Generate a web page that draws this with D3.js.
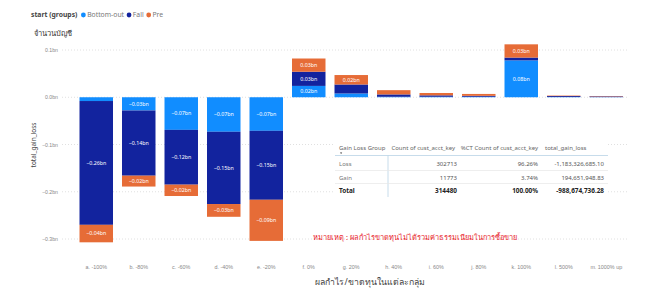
<!DOCTYPE html>
<html>
<head>
<meta charset="utf-8">
<script src="https://cdn.jsdelivr.net/npm/d3@7"></script>
<style>
  body { margin: 0; background: #fff; }
  svg { font-family: "Segoe UI", "Noto Sans", "DejaVu Sans", sans-serif; }
</style>
</head>
<body>
<div class="graph"></div>
<script>
// categories and series (values in billions)
var categories = ['a. -100%', 'b. -80%', 'c. -60%', 'd. -40%', 'e. -20%', 'f. 0%', 'g. 20%',
    'h. 40%', 'i. 60%', 'j. 80%', 'k. 100%', 'l. 500%', 'm. 1000% up'];
var seriesNames = ['Bottom-out', 'Fall', 'Pre'];
var bottomOut = [-0.008, -0.028, -0.069, -0.073, -0.071, 0.024, 0.008, 0.001, 0.001, 0.001, 0.078, 0.0005, 0.0003];
var fall = [-0.262, -0.138, -0.116, -0.153, -0.146, 0.030, 0.019, 0.005, 0.003, 0.002, 0.006, 0.002, 0.0015];
var pre = [-0.037, -0.023, -0.024, -0.027, -0.087, 0.028, 0.020, 0.009, 0.005, 0.004, 0.028, 0.001, 0.0008];
var yTicks = [0.1, 0, -0.1, -0.2, -0.3];

// table
var tableHeader = ['Gain Loss Group', 'Count of cust_acct_key', '%CT Count of cust_acct_key', 'total_gain_loss'];
var tableRows = [
    ['Loss', '302713', '96.26%', '-1,183,326,685.10'],
    ['Gain', '11773', '3.74%', '194,651,948.83'],
    ['Total', '314480', '100.00%', '-988,674,736.28']
];

var colors = { 'Bottom-out': '#118DFF', 'Fall': '#12239E', 'Pre': '#E66C37' };

var width = 656, height = 304;

var svg = d3.select('.graph')
    .append('svg')
    .attr('width', width)
    .attr('height', height);

var data = categories.map(function (c, i) {
    return { cat: c, 'Bottom-out': bottomOut[i], 'Fall': fall[i], 'Pre': pre[i] };
});

var xScale = d3.scaleBand()
    .domain(categories)
    .range([75, 627.5])
    .paddingInner(0.212)
    .paddingOuter(0.106);

var yScale = d3.scaleLinear()
    .domain([-0.3, 0.1])
    .range([239, 50]);

// legend
var legend = svg.append('g').attr('transform', 'translate(31, 15)');
var title = legend.append('text')
    .attr('y', 2.4)
    .attr('font-size', 6.8)
    .attr('font-weight', 'bold')
    .attr('fill', '#444')
    .text('start (groups)');
var lx = title.node().getComputedTextLength() + 6;
seriesNames.forEach(function (s) {
    legend.append('circle')
        .attr('cx', lx)
        .attr('cy', 0)
        .attr('r', 2.4)
        .attr('fill', colors[s]);
    var t = legend.append('text')
        .attr('x', lx + 3.8)
        .attr('y', 2.4)
        .attr('font-size', 6.8)
        .attr('fill', '#777')
        .text(s);
    lx += 3.8 + t.node().getComputedTextLength() + 5;
});

// titles
svg.append('text')
    .attr('x', 34)
    .attr('y', 36)
    .attr('font-size', 7.5)
    .attr('fill', '#333')
    .text('จำนวนบัญชี');

svg.append('text')
    .attr('transform', 'translate(36, 145) rotate(-90)')
    .attr('text-anchor', 'middle')
    .attr('font-size', 6.5)
    .attr('fill', '#444')
    .text('total_gain_loss');

// y axis (grid + labels)
var yAxis = d3.axisLeft(yScale)
    .tickValues(yTicks)
    .tickSize(0)
    .tickPadding(4)
    .tickFormat(function (d) { return d3.format('.1f')(d) + 'bn'; });

var yG = svg.append('g')
    .attr('transform', 'translate(62, 0)')
    .call(yAxis);
yG.select('.domain').remove();
yG.selectAll('text').attr('font-size', 5.2).attr('fill', '#888');

svg.append('g')
    .selectAll('line')
    .data(yTicks)
    .enter()
    .append('line')
    .attr('x1', 62)
    .attr('x2', 628)
    .attr('y1', function (d) { return yScale(d); })
    .attr('y2', function (d) { return yScale(d); })
    .attr('stroke', '#d8d8d8')
    .attr('stroke-width', 0.8)
    .attr('stroke-dasharray', '1,2');

// x axis
var xAxis = d3.axisBottom(xScale).tickSize(0).tickPadding(0);
var xG = svg.append('g')
    .attr('transform', 'translate(0, 265)')
    .call(xAxis);
xG.select('.domain').remove();
xG.selectAll('text').attr('font-size', 5.4).attr('fill', '#888');

svg.append('text')
    .attr('x', 370)
    .attr('y', 285)
    .attr('text-anchor', 'middle')
    .attr('font-size', 8.7)
    .attr('fill', '#444')
    .text('ผลกำไร/ขาดทุนในแต่ละกลุ่ม');

// stacked bars
var stack = d3.stack()
    .keys(seriesNames)
    .offset(d3.stackOffsetDiverging);
var layers = stack(data);

var layerG = svg.append('g')
    .selectAll('g')
    .data(layers)
    .enter()
    .append('g')
    .attr('fill', function (d) { return colors[d.key]; });

layerG.selectAll('rect')
    .data(function (d) { return d; })
    .enter()
    .append('rect')
    .attr('x', function (d) { return xScale(d.data.cat); })
    .attr('width', xScale.bandwidth())
    .attr('y', function (d) { return yScale(Math.max(d[0], d[1])); })
    .attr('height', function (d) { return Math.abs(yScale(d[0]) - yScale(d[1])); });

layerG.selectAll('text')
    .data(function (d) { return d; })
    .enter()
    .filter(function (d) { return Math.abs(yScale(d[0]) - yScale(d[1])) >= 9; })
    .append('text')
    .attr('x', function (d) { return xScale(d.data.cat) + xScale.bandwidth() / 2; })
    .attr('y', function (d) { return (yScale(d[0]) + yScale(d[1])) / 2 + 1.9; })
    .attr('text-anchor', 'middle')
    .attr('font-size', 5.3)
    .attr('fill', '#fff')
    .text(function (d) {
        var v = d[0] < 0 || d[1] < 0 ? -Math.abs(d[1] - d[0]) : Math.abs(d[1] - d[0]);
        return d3.format('.2f')(v) + 'bn';
    });

// table
var table = svg.append('g').attr('font-size', 6);
var colX = [339, 457, 538, 604];
var colAnchor = ['start', 'end', 'end', 'end'];
var headerX = [339, 455, 538, 545];
var headerAnchor = ['start', 'end', 'end', 'start'];
table.append('rect')
    .attr('x', 335)
    .attr('y', 141)
    .attr('width', 273)
    .attr('height', 57)
    .attr('fill', '#fff');
tableHeader.forEach(function (h, i) {
    table.append('text')
        .attr('x', headerX[i])
        .attr('y', 150)
        .attr('text-anchor', headerAnchor[i])
        .attr('fill', '#666')
        .text(h);
});
table.append('path')
    .attr('d', 'M340,152.5 l2.2,0 l-1.1,1.6 z')
    .attr('fill', '#333');
table.append('line')
    .attr('x1', 335).attr('x2', 608)
    .attr('y1', 155.5).attr('y2', 155.5)
    .attr('stroke', '#b9d3e6').attr('stroke-width', 0.8);
table.append('line')
    .attr('x1', 388).attr('x2', 388)
    .attr('y1', 155.5).attr('y2', 197)
    .attr('stroke', '#b9d3e6').attr('stroke-width', 0.8);
[170.5, 183.5].forEach(function (y) {
    table.append('line')
        .attr('x1', 335).attr('x2', 608)
        .attr('y1', y).attr('y2', y)
        .attr('stroke', '#e6e6e6').attr('stroke-width', 0.7);
});
var rowY = [166, 179.5, 193];
tableRows.forEach(function (row, r) {
    row.forEach(function (cell, i) {
        table.append('text')
            .attr('x', colX[i])
            .attr('y', rowY[r])
            .attr('text-anchor', colAnchor[i])
            .attr('font-size', r === 2 ? 6.4 : 6)
            .attr('font-weight', r === 2 ? 'bold' : 'normal')
            .attr('fill', r === 2 ? '#222' : (i === 0 ? '#777' : '#555'))
            .text(cell);
    });
});

// note
svg.append('text')
    .attr('x', 313)
    .attr('y', 239.5)
    .attr('font-size', 7.4)
    .attr('fill', '#e8232b')
    .text('หมายเหตุ : ผลกำไรขาดทุนไม่ได้รวมค่าธรรมเนียมในการซื้อขาย');
</script>
</body>
</html>
